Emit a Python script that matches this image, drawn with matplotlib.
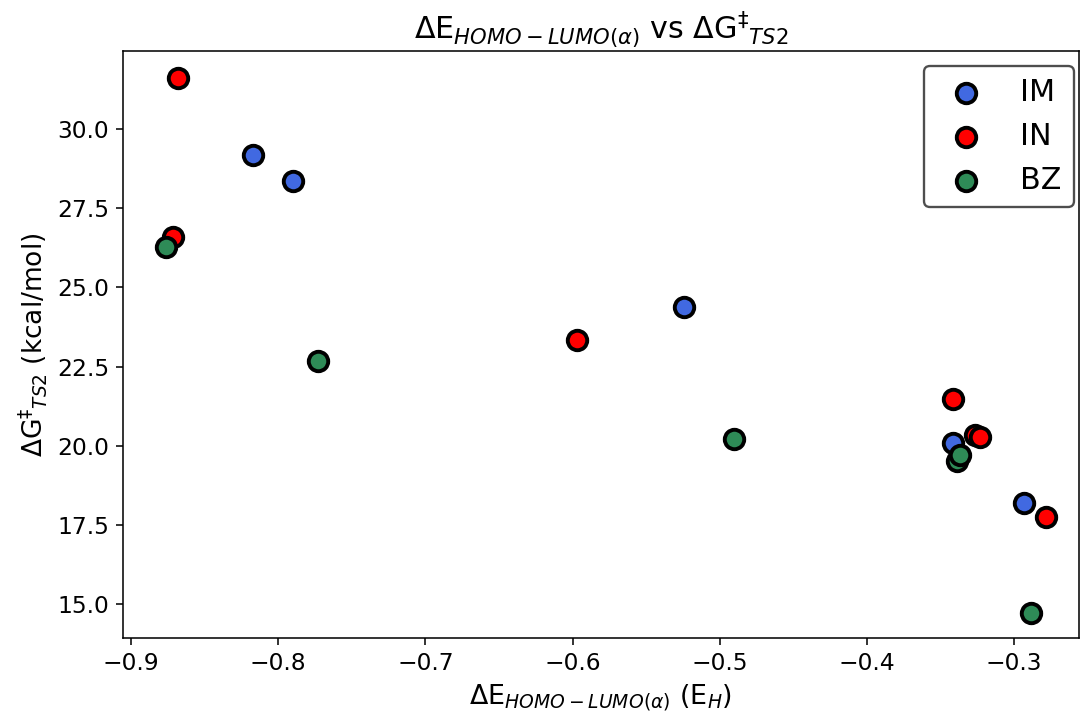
import matplotlib.pyplot as plt

# Data
im_x = [-0.8171, -0.790, -0.5243, -0.3416, -0.2933]
im_y = [29.18, 28.36, 24.38, 20.09, 18.19]

in_x = [-0.8681, -0.8715, -0.597, -0.3416, -0.3266, -0.3232, -0.2784]
in_y = [31.61, 26.59, 23.34, 21.47, 20.34, 20.27, 17.75]

bz_x = [-0.8762, -0.773, -0.4904, -0.3389, -0.3368, -0.2886]
bz_y = [26.27, 22.67, 20.21, 19.52, 19.71, 14.72]

DPI = 140
fig, ax = plt.subplots(figsize=(1081 / DPI, 719 / DPI), dpi=DPI)
fig.subplots_adjust(left=0.1135, right=0.998, top=0.929, bottom=0.1127)

# Scatter for each group
ax.scatter(im_x, im_y, s=100, c='royalblue', edgecolors='black', linewidths=2, label='IM')
ax.scatter(in_x, in_y, s=100, c='red', edgecolors='black', linewidths=2, label='IN')
ax.scatter(bz_x, bz_y, s=100, c='seagreen', edgecolors='black', linewidths=2, label='BZ')

ax.set_xlim(-0.9056, -0.256)
ax.set_ylim(13.93, 32.46)
ax.tick_params(labelsize=12)

ax.set_title(r'$\Delta$E$_{HOMO-LUMO(\alpha)}$ vs $\Delta$G$^{\ddag}$$_{TS2}$', fontsize=15.5)
ax.set_xlabel(r'$\Delta$E$_{HOMO-LUMO(\alpha)}$ (E$_H$)', fontsize=13.8)
ax.set_ylabel(r'$\Delta$G$^{\ddag}$$_{TS2}$ (kcal/mol)', fontsize=13.6)

leg = ax.legend(loc='upper right', bbox_to_anchor=(0.9948, 0.9744), borderaxespad=0,
                fontsize=15.5, handletextpad=0.8)
leg.get_frame().set_edgecolor('#222222')
leg.get_frame().set_linewidth(1.2)

plt.savefig('out.png', dpi=DPI)
